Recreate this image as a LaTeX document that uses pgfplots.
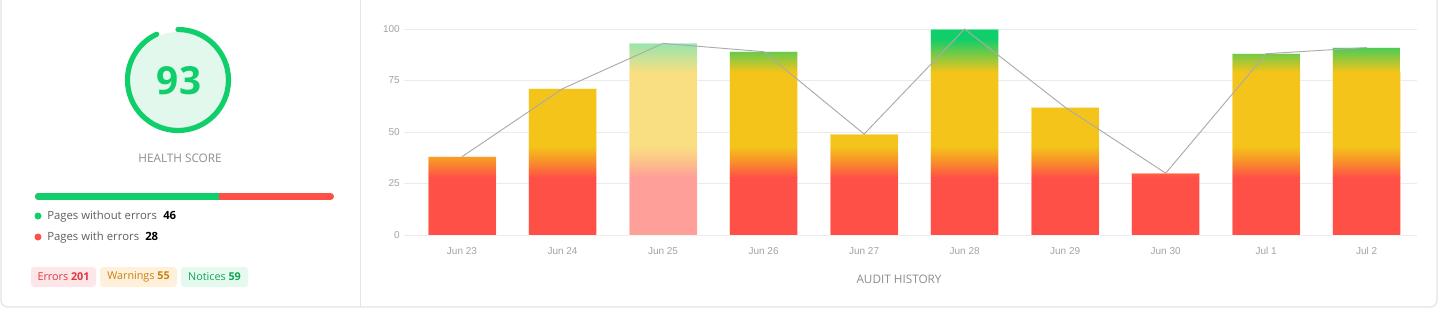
\documentclass[border=0pt]{standalone}
\usepackage{fontspec}
\setmainfont{Open Sans}
\newfontfamily\arialfont{Liberation Sans}
\usepackage{pgfplots}
\pgfplotsset{compat=1.18}
\usepackage{pgfplotstable}

\definecolor{cRed}{HTML}{FF5047}
\definecolor{cOrange}{HTML}{F88F2A}
\definecolor{cYellow}{HTML}{F4C41A}
\definecolor{cGreen}{HTML}{10CE6A}
% faded versions for the highlighted run
\colorlet{fRed}{cRed!55!white}
\colorlet{fOrange}{cOrange!55!white}
\colorlet{fYellow}{cYellow!55!white}
\colorlet{fGreen}{cGreen!50!white}
\definecolor{gaugeFill}{HTML}{E3F8ED}
\definecolor{panelLine}{HTML}{E4E4E4}
\definecolor{gridc}{HTML}{EBEBEB}
\definecolor{tickc}{HTML}{A3A3A3}
\definecolor{labelc}{HTML}{8E8E8E}
\definecolor{legendText}{HTML}{5F5F5F}
\definecolor{errBg}{HTML}{FDE6E7}
\definecolor{errText}{HTML}{DC3641}
\definecolor{warnBg}{HTML}{FFF0DC}
\definecolor{warnText}{HTML}{C6820F}
\definecolor{noteBg}{HTML}{E6F9EE}
\definecolor{noteText}{HTML}{12A457}
\definecolor{linec}{HTML}{ABABAB}

% health score history (audit runs)
\pgfplotstableread{
x score
0 38
1 71
2 93
3 89
4 49
5 100
6 62
7 30
8 88
9 91
}\audit

% vertical blends between the colour bands
\pgfdeclareverticalshading{cRY}{100bp}{color(0bp)=(cRed); color(25bp)=(cRed); color(50bp)=(cOrange); color(75bp)=(cYellow); color(100bp)=(cYellow)}
\pgfdeclareverticalshading{cYG}{100bp}{color(0bp)=(cYellow); color(25bp)=(cYellow); color(75bp)=(cGreen); color(100bp)=(cGreen)}
\pgfdeclareverticalshading{fRY}{100bp}{color(0bp)=(fRed); color(25bp)=(fRed); color(50bp)=(fOrange); color(75bp)=(fYellow); color(100bp)=(fYellow)}
\pgfdeclareverticalshading{fYG}{100bp}{color(0bp)=(fYellow); color(25bp)=(fYellow); color(75bp)=(fGreen); color(100bp)=(fGreen)}

% colour bands fixed to the score scale, clipped by each bar
\newcommand{\flatband}[3]{%
  \pgfpathrectanglecorners{\pgfplotspointaxisxy{-1}{#1}}{\pgfplotspointaxisxy{10}{#2}}%
  \pgfsetfillcolor{#3}\pgfusepath{fill}}
\newcommand{\blendband}[3]{%
  \pgfpathrectanglecorners{\pgfplotspointaxisxy{-1}{#1}}{\pgfplotspointaxisxy{10}{#2}}%
  \pgfshadepath{#3}{0}\pgfusepath{discard}}
\newcommand{\scorebands}[1]{%
  \begin{pgfscope}
  \flatband{0}{28.2}{#1Red}%
  \blendband{28}{43.2}{#1RY}%
  \flatband{43}{79.2}{#1Yellow}%
  \blendband{79}{95.2}{#1YG}%
  \flatband{95}{102}{#1Green}%
  \end{pgfscope}}

\begin{document}
\begin{tikzpicture}[x=0.75pt, y=0.75pt]
\fill[white] (0,0) rectangle (1438,308);
\useasboundingbox (0,0) rectangle (1438,308);

% card outlines
\begin{scope}
\clip (0,0) rectangle (1438,308);
\draw[panelLine, line width=0.9pt, rounded corners=5] (1,320) -- (1,1) -- (1437,1) -- (1437,320);
\draw[panelLine, line width=0.9pt] (360.5,1) -- (360.5,320);
\end{scope}

% health score gauge
\fill[gaugeFill] (178,228) circle[radius=48];
\draw[cGreen, line width=3.9pt, line cap=round] (178,228) ++(90:50.5) arc[start angle=90, end angle=-245, radius=50.5];
\node[text=cGreen, font=\bfseries\fontsize{29}{32}\selectfont] at (179,227) {93};
\node[text=labelc, font=\fontsize{8.8}{10}\selectfont] at (180,150) {HEALTH SCORE};

% pages bar
\draw[cRed, line width=5.2pt, line cap=round] (38.5,111.5) -- (330.5,111.5);
\draw[cGreen, line width=5.2pt, line cap=butt] (38.5,111.5) -- (219,111.5);
\fill[cGreen] (38.5,111.5) circle[radius=3.5];

% legend
\fill[cGreen] (38,92) circle[radius=3.5];
\node[anchor=west, inner sep=0pt, text=legendText, font=\fontsize{8.5}{10}\selectfont] at (47,91.5) {Pages without errors};
\node[anchor=west, inner sep=0pt, font=\bfseries\fontsize{8.5}{10}\selectfont] at (163,92.5) {46};
\fill[cRed] (38,71) circle[radius=3.5];
\node[anchor=west, inner sep=0pt, text=legendText, font=\fontsize{8.5}{10}\selectfont] at (47,70.5) {Pages with errors};
\node[anchor=west, inner sep=0pt, font=\bfseries\fontsize{8.5}{10}\selectfont] at (145,71.5) {28};

% issue badges
\fill[errBg, rounded corners=2.5] (31,21) rectangle (96,41);
\node[text=errText, font=\fontsize{8.1}{10}\selectfont] at (63.5,31) {Errors \textbf{201}};
\fill[warnBg, rounded corners=2.5] (100,21) rectangle (177,41);
\node[text=warnText, font=\fontsize{8.1}{10}\selectfont] at (138.5,31) {Warnings \textbf{55}};
\fill[noteBg, rounded corners=2.5] (181,21) rectangle (248,41);
\node[text=noteText, font=\fontsize{8.1}{10}\selectfont] at (214.5,31) {Notices \textbf{59}};

% audit history
\begin{axis}[
  at={(303pt,54.75pt)}, anchor=south west,
  scale only axis, width=759.75pt, height=154.5pt,
  xmin=-0.577, xmax=9.5, ymin=0, ymax=100,
  clip=false,
  axis line style={draw=none},
  major tick length=0pt,
  xtick={0,...,9},
  xticklabels={Jun 23,Jun 24,Jun 25,Jun 26,Jun 27,Jun 28,Jun 29,Jun 30,Jul 1,Jul 2},
  ytick={0,25,50,75,100},
  ymajorgrids,
  grid style={draw=gridc, line width=0.75pt},
  /pgf/number format/assume math mode=true,
  ticklabel style={font=\arialfont\fontsize{7.5}{9}\selectfont, text=tickc},
  yticklabel style={anchor=east, inner sep=0pt, xshift=-3pt},
  xticklabel style={anchor=center, inner sep=0pt, yshift=-12pt},
]
\addplot[ybar, bar width=51pt, bar shift=0pt, fill=none, draw=none,
  path picture={\scorebands{c}}]
  table[x=x, y=score] {
x score
0 38
1 71
3 89
4 49
5 100
6 62
7 30
8 88
9 91
};
\addplot[ybar, bar width=51pt, bar shift=0pt, fill=none, draw=none,
  path picture={\scorebands{f}}]
  table[x=x, y=score] {
x score
2 93
};
\addplot[ybar, bar width=51pt, bar shift=0pt, fill=none, draw=white, draw opacity=0.45, line width=0.75pt]
  table[x=x, y=score] {\audit};
\addplot[sharp plot, color=linec, line width=0.7pt, mark=none] table[x=x, y=score] {\audit};
\end{axis}

\node[text=labelc, font=\fontsize{8.8}{10}\selectfont] at (899,29) {AUDIT HISTORY};
\end{tikzpicture}
\end{document}
